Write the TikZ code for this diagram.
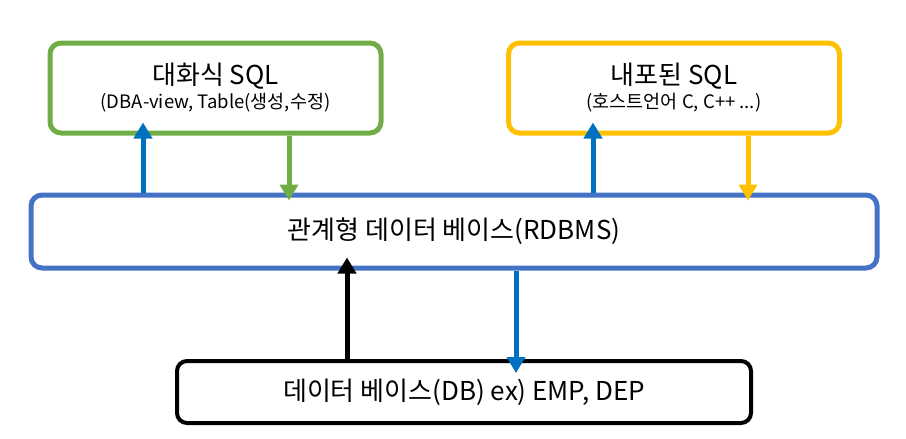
\documentclass[tikz,border=0pt]{standalone}
\usepackage{fontspec}
\setmainfont{Noto Sans CJK KR}
\usetikzlibrary{arrows.meta}
\usetikzlibrary{positioning}
\definecolor{sqlgreen}{HTML}{70AD47}
\definecolor{sqlyellow}{HTML}{FFC000}
\definecolor{rdbblue}{HTML}{4472C4}
\definecolor{flowblue}{HTML}{0070C0}
\newcommand{\titlefont}{\fontsize{26}{30}\selectfont}
\newcommand{\notefont}{\fontsize{18.5}{22}\selectfont}
\tikzset{
  box/.style={draw, rounded corners=11pt, line width=5pt, align=center, inner sep=0pt},
  sqlbox/.style={box, minimum width=331pt, minimum height=90pt},
  flow/.style={line width=5pt, -{Triangle[width=18pt,length=16pt]}}
}

\begin{document}
\begin{tikzpicture}[x=1pt,y=-1pt]
	\useasboundingbox (0,0) rectangle (906,439);
	% boxes
	\node[sqlbox, draw=sqlgreen] (dialog) at (215.5,88) {{\titlefont 대화식 SQL}\\[3pt]{\notefont (DBA-view, Table(생성,수정)}};
	\node[sqlbox, draw=sqlyellow] (embed) at (674,88) {{\titlefont 내포된 SQL}\\[3pt]{\notefont (호스트언어 C, C++ ...)}};
	\node[box, draw=rdbblue, minimum width=846pt, minimum height=73pt] (rdbms) at (454,231.5) {\titlefont 관계형 데이터 베이스(RDBMS)};
	\node[box, draw=black, line width=4pt, rounded corners=10pt, minimum width=574pt, minimum height=62pt] (db) at (464,392) {\titlefont 데이터 베이스(DB) ex) EMP, DEP};
	% connectors
	\draw[flow, flowblue] (rdbms.north -| 143,0) -- ([yshift=13pt]dialog.south -| 143,0);
	\draw[flow, sqlgreen] (dialog.south -| 289,0) -- ([yshift=-8pt]rdbms.north -| 289,0);
	\draw[flow, flowblue] (rdbms.north -| 593,0) -- ([yshift=13pt]embed.south -| 593,0);
	\draw[flow, sqlyellow] (embed.south -| 748,0) -- ([yshift=-8pt]rdbms.north -| 748,0);
	\draw[flow, black] (db.north -| 347,0) -- ([yshift=13pt]rdbms.south -| 347,0);
	\draw[flow, flowblue] (rdbms.south -| 516,0) -- ([yshift=-14pt]db.north -| 516,0);
\end{tikzpicture}
\end{document}
